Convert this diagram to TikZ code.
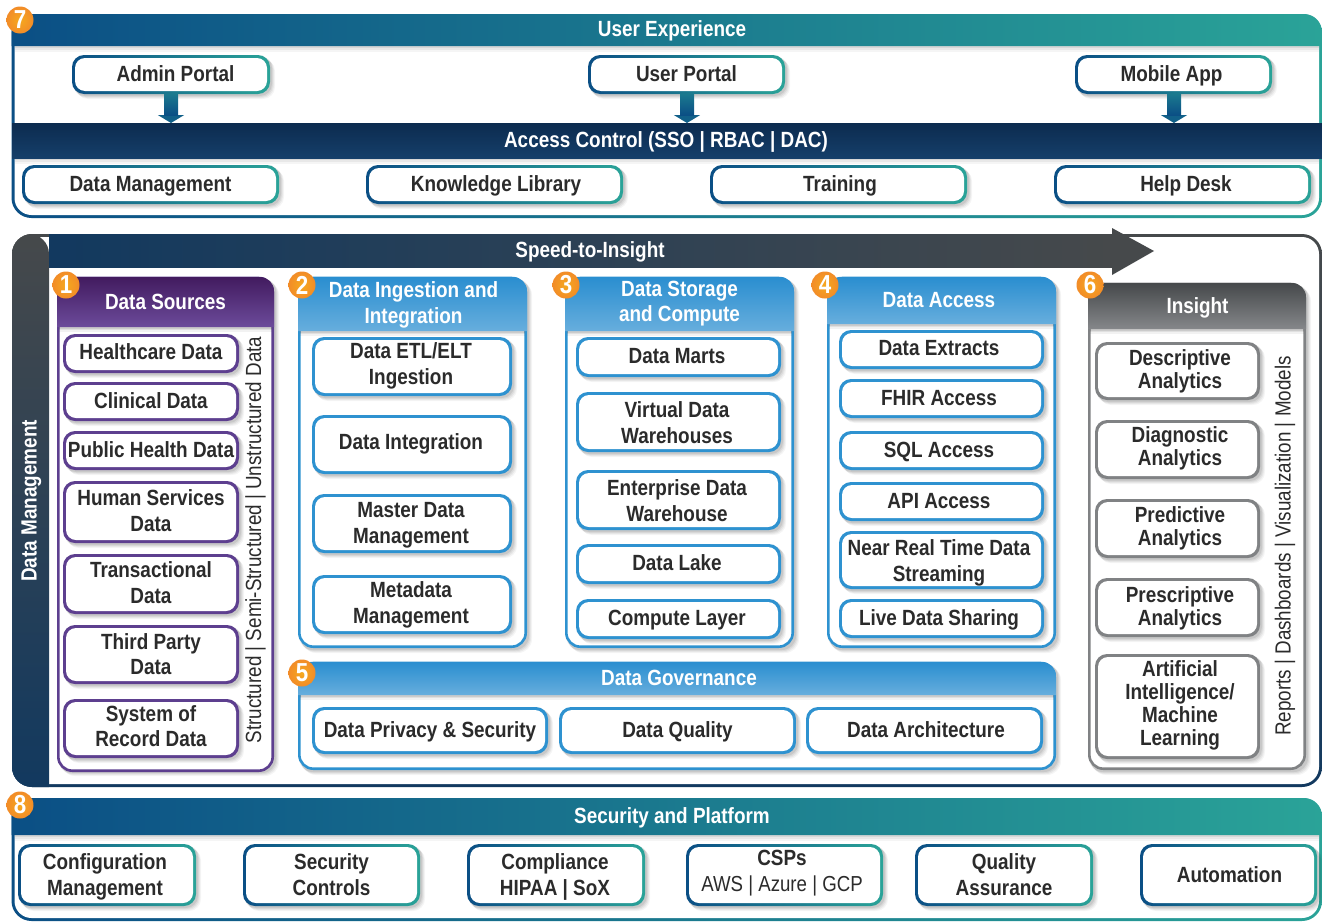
\documentclass[tikz,border=0pt]{standalone}
\usepackage{fontspec}
\usetikzlibrary{arrows.meta,calc}
\newfontfamily\nf[FakeStretch=0.86]{Liberation Sans}
\definecolor{txt}{HTML}{2B2B2B}
\definecolor{navy}{HTML}{0B4F85}
\definecolor{teal}{HTML}{2AA398}
\definecolor{dnavy}{HTML}{0C2B4F}
\definecolor{mnavy}{HTML}{153F6A}
\definecolor{sgray}{HTML}{46494B}
\definecolor{snavy}{HTML}{12395F}
\definecolor{purp}{HTML}{5D3F8F}
\definecolor{dpurp}{HTML}{421B5F}
\definecolor{lpurp}{HTML}{6C4B9B}
\definecolor{blu}{HTML}{2E92D0}
\definecolor{dblu}{HTML}{2A8ED0}
\definecolor{lblu}{HTML}{67AEDD}
\definecolor{gry}{HTML}{808284}
\definecolor{lgry}{HTML}{85878A}
\definecolor{orng}{HTML}{F28C28}
\def\plead{25.5}
\newcommand{\pfont}{\nf\bfseries\fontsize{22}{\plead}\selectfont}
\tikzset{
  x=1pt,y=-1pt,
  evenstrut/.style={execute at begin node={\rule{0pt}{20pt}},execute at end node={\rule[-5pt]{0pt}{5pt}}},
  pillouter/.style={rounded corners=12pt,inner sep=0pt,outer sep=0pt},
  pillfill/.style={rounded corners=10pt,inner sep=0pt,outer sep=0pt,fill=white},
  pilltext/.style={inner sep=0pt,outer sep=0pt,align=center,text=txt,font=\pfont,evenstrut},
  htext/.style={inner sep=0pt,text=white,align=center,font=\pfont,evenstrut},
  hbig/.style={inner sep=0pt,text=white,align=center,font=\nf\bfseries\fontsize{22}{25}\selectfont,evenstrut},
  sidetext/.style={inner sep=0pt,text=txt,rotate=90,font=\nf\fontsize{21.9}{26}\selectfont,evenstrut},
  badge/.style={circle,minimum size=27pt,inner sep=0pt,inner color=orng!75!yellow,outer color=orng,text=white,font=\nf\bfseries\fontsize{26}{26}\selectfont},
  blockarrow/.style={line width=14pt,-{Triangle[width=26pt,length=8pt]},color=#1},
}
% soft shadow
\newcommand{\softshadow}[5]{%
  \foreach \d/\op in {5/.04,4/.05,3/.06,2/.08}{
    \fill[black,opacity=\op,rounded corners=#5]
      ({#1+\d-1},{#2+\d-1}) rectangle ({#3+\d},{#4+\d});
  }}
% [text offset dx,dy]{name}{x1}{y1}{x2}{y2}{left colour}{right colour}{text}
\newcommand{\pill}[9][0,0]{%
  \softshadow{#3}{#4}{#5}{#6}{12pt}
  \node[pillouter,left color=#7,right color=#8,minimum width={(#5-#3)*1pt},minimum height={(#6-#4)*1pt}]
     (#2-edge) at ({(#3+#5)/2},{(#4+#6)/2}) {};
  \node[pillfill,minimum width={(#5-#3-6)*1pt},minimum height={(#6-#4-6)*1pt}]
     (#2-fill) at ({(#3+#5)/2},{(#4+#6)/2}) {};
  \node[pilltext,shift={(#1)}] (#2) at ({(#3+#5)/2},{(#4+#6)/2}) {#9};
}
\newcommand{\colhead}[9][0,0]{%
  \foreach \d/\op in {5/.05,3/.07,1.5/.09}{\fill[black,opacity=\op] (#3+2,#6) rectangle (#5-2,#6+\d);}
  \shade[top color=#7,bottom color=#8,rounded corners=14pt]
     (#3,#6) -- (#3,#4) -- (#5,#4) [sharp corners] -- (#5,#6) -- cycle;
  \node[htext,shift={(#1)}] (#2) at ({(#3+#5)/2},{(#4+#6)/2}) {#9};
}
\begin{document}
\begin{tikzpicture}
\useasboundingbox (0,0) rectangle (1322,921);
\fill[white] (0,0) rectangle (1322,921);

% ---------- Panel 7
\shade[left color=navy,right color=teal,rounded corners=20pt] (11.5,14) rectangle (1322,218);
\fill[white,rounded corners=17pt] (14.5,17) rectangle (1319,215);
\foreach \d/\op in {6/.04,4/.05,2/.07}{\fill[black,opacity=\op] (14.5,46) rectangle (1319,46+\d);}
\shade[left color=navy,right color=teal,rounded corners=18pt]
   (11.5,46) -- (11.5,14) -- (1322,14) [sharp corners] -- (1322,46) -- cycle;
\node[hbig] (ux) at (672,29) {User Experience};

\pill[4.5,-1]{admin}{72}{55}{270}{94}{navy}{teal}{Admin Portal}
\pill[0,-1]{user}{588}{55}{785}{94}{navy}{teal}{User Portal}
\pill[-2,-1]{mobile}{1075}{55}{1272}{94}{navy}{teal}{Mobile App}

\foreach \d/\op in {6/.04,4/.05,2/.07}{\fill[black,opacity=\op] (14.5,158) rectangle (1319,158+\d);}
\shade[top color=dnavy,bottom color=mnavy] (12,123) rectangle (1322,158);
\node[hbig] (access) at (666,140) {Access Control (SSO | RBAC | DAC)};
\coordinate (accesstop1) at (171,123);
\coordinate (accesstop2) at (687,123);
\coordinate (accesstop3) at (1174,123);
\coordinate (a1) at (171,94);
\coordinate (a2) at (687,94);
\coordinate (a3) at (1174,94);
\foreach \p in {1,2,3}{
  \draw[blockarrow=navy!80!teal] (a\p) -- (accesstop\p);
  \shade[top color=navy!50!teal,bottom color=navy] ($(a\p)+(-7,0)$) rectangle ($(a\p)+(7,21)$);
}

\pill[0,-1]{dm}{22}{165}{279}{204}{navy}{teal}{Data Management}
\pill[1.5,-1]{kl}{366}{165}{623}{204}{navy}{teal}{Knowledge Library}
\pill[1.5,-1]{tr}{710}{165}{967}{204}{navy}{teal}{Training}
\pill[3.5,-1]{hd}{1054}{165}{1311}{204}{navy}{teal}{Help Desk}

% ---------- Main panel
\shade[top color=sgray,bottom color=snavy,rounded corners=20pt] (12,234) rectangle (1322,787);
\fill[white,rounded corners=17pt] (15,237) rectangle (1319,784);
\shade[top color=sgray,bottom color=snavy,rounded corners=20pt]
   (49,787) -- (12,787) -- (12,234) -- (49,234) [sharp corners] -- cycle;
\shade[left color=snavy,right color=sgray] (49,234) rectangle (1113,267);
\fill[sgray] (1112,228) -- (1154,251) -- (1112,275) -- cycle;
\node[hbig] (speed) at (590,250) {Speed-to-Insight};
\node[hbig,rotate=90] (dmgmt) at (29,501) {Data Management};

% ---------- Column 1
\softshadow{57}{277}{274}{771}{14pt}
\draw[purp,line width=2.6pt,fill=white,rounded corners=14pt] (58.3,278) rectangle (272.7,770.7);
\colhead{c1}{57}{277}{274}{327}{dpurp}{lpurp}{Data Sources}
\pill[0,-2]{p1}{63}{334}{239}{373}{purp}{purp}{Healthcare Data}
\pill[0,-1]{p2}{63}{382}{239}{421}{purp}{purp}{Clinical Data}
\pill[0,-1]{p3}{63}{431}{239}{470}{purp}{purp}{Public Health Data}
\pill[0,1]{p4}{63}{481}{239}{543}{purp}{purp}{Human Services\\Data}
\pill[0,1]{p5}{63}{554}{239}{614}{purp}{purp}{Transactional\\Data}
\pill[0,2]{p6}{63}{625}{239}{684}{purp}{purp}{Third Party\\Data}
\pill{p7}{63}{699}{239}{758}{purp}{purp}{System of\\Record Data}
\node[sidetext] (s1) at (253.5,540) {Structured | Semi-Structured | Unstructured Data};

% ---------- Column 2
\softshadow{298}{277}{527}{648}{14pt}
\draw[blu,line width=2.6pt,fill=white,rounded corners=14pt] (299.3,278) rectangle (525.7,646.7);
\colhead[1,1]{c2}{298}{277}{527}{331}{dblu}{lblu}{Data Ingestion and\\Integration}
\pill[-1,-0.5]{i1}{312}{337}{512}{396}{blu}{blu}{Data ETL/ELT\\Ingestion}
\pill[-1,-3]{i2}{312}{415}{512}{474}{blu}{blu}{Data Integration}
\pill[-1,2]{i3}{312}{494}{512}{553}{blu}{blu}{Master Data\\Management}
\pill[-1,0.5]{i4}{312}{575}{512}{634}{blu}{blu}{Metadata\\Management}

% ---------- Column 3
\softshadow{565}{277}{794}{648}{14pt}
\draw[blu,line width=2.6pt,fill=white,rounded corners=14pt] (566.3,278) rectangle (792.7,646.7);
\colhead{c3}{565}{277}{794}{331}{dblu}{lblu}{Data Storage\\and Compute}
\pill[-1.5,-1]{d1}{576}{337}{781}{377}{blu}{blu}{Data Marts}
\pill[-1.5,3]{d2}{576}{392}{781}{452}{blu}{blu}{Virtual Data\\Warehouses}
\pill[-1.5,3]{d3}{576}{470}{781}{530}{blu}{blu}{Enterprise Data\\Warehouse}
\pill[-1.5,-1]{d4}{576}{544}{781}{584}{blu}{blu}{Data Lake}
\pill[-1.5,-1]{d5}{576}{599}{781}{639}{blu}{blu}{Compute Layer}

% ---------- Column 4
\softshadow{827}{277}{1056}{648}{14pt}
\draw[blu,line width=2.6pt,fill=white,rounded corners=14pt] (828.3,278) rectangle (1054.7,646.7);
\colhead[-2.5,-0.5]{c4}{827}{277}{1056}{324}{dblu}{lblu}{Data Access}
\pill[-2.5,-2]{e1}{839}{330}{1044}{369}{blu}{blu}{Data Extracts}
\pill[-2.5,-1]{e2}{839}{379}{1044}{418}{blu}{blu}{FHIR Access}
\pill[-2.5,-1]{e3}{839}{431}{1044}{470}{blu}{blu}{SQL Access}
\pill[-2.5,-1]{e4}{839}{482}{1044}{521}{blu}{blu}{API Access}
\pill[-2.5,3]{e5}{839}{531}{1044}{589}{blu}{blu}{Near Real Time Data\\Streaming}
\pill[-2.5,-1]{e6}{839}{599}{1044}{638}{blu}{blu}{Live Data Sharing}

% ---------- Panel 5
\softshadow{298}{662}{1056}{770}{14pt}
\draw[blu,line width=2.6pt,fill=white,rounded corners=14pt] (299.3,663) rectangle (1054.7,768.7);
\colhead[2,-1]{c5}{298}{662}{1056}{695}{dblu}{lblu}{Data Governance}
\pill[0,-1]{g1}{312}{707}{548}{754}{blu}{blu}{Data Privacy \& Security}
\pill[0,-1]{g2}{559}{707}{796}{754}{blu}{blu}{Data Quality}
\pill[1.5,-1]{g3}{806}{707}{1043}{754}{blu}{blu}{Data Architecture}

% ---------- Insight
\softshadow{1088}{283}{1306}{770}{14pt}
\draw[gry,line width=2.6pt,fill=white,rounded corners=14pt] (1089.3,284) rectangle (1304.7,768.7);
\colhead[0.5,0]{c6}{1088}{283}{1306}{329}{sgray}{lgry}{Insight}
\def\plead{23}
\pill[2.5,1]{n1}{1095}{342}{1260}{400}{gry}{gry}{Descriptive\\Analytics}
\pill[2.5,-1]{n2}{1095}{420}{1260}{479}{gry}{gry}{Diagnostic\\Analytics}
\pill[2.5,0]{n3}{1095}{499}{1260}{558}{gry}{gry}{Predictive\\Analytics}
\pill[2.5,1.5]{n4}{1095}{578}{1260}{637}{gry}{gry}{Prescriptive\\Analytics}
\pill[2.5,-1]{n5}{1095}{654}{1260}{759}{gry}{gry}{Artificial\\Intelligence/\\Machine\\Learning}
\def\plead{25.5}
\node[sidetext] (s2) at (1283,546) {Reports | Dashboards | Visualization | Models};

% ---------- Panel 8
\shade[left color=navy,right color=teal,rounded corners=20pt] (11.5,798) rectangle (1322,921);
\fill[white,rounded corners=17pt] (14.5,801) rectangle (1319,918);
\foreach \d/\op in {6/.04,4/.05,2/.07}{\fill[black,opacity=\op] (14.5,835) rectangle (1319,835+\d);}
\shade[left color=navy,right color=teal,rounded corners=18pt]
   (11.5,835) -- (11.5,798) -- (1322,798) [sharp corners] -- (1322,835) -- cycle;
\node[hbig] (sp) at (672,816) {Security and Platform};
\pill[-2,2]{b1}{18}{844}{196}{906}{navy}{teal}{Configuration\\Management}
\pill[0,2]{b2}{243}{844}{420}{906}{navy}{teal}{Security\\Controls}
\pill[-1,2]{b3}{467}{844}{645}{906}{navy}{teal}{Compliance\\HIPAA | SoX}
\pill[-2.5,-1.5]{b4}{686}{844}{883}{906}{navy}{teal}{CSPs\\{\nf\mdseries\fontsize{21.7}{25}\selectfont AWS | Azure | GCP}}
\pill[0,2]{b5}{915}{844}{1093}{906}{navy}{teal}{Quality\\Assurance}
\pill[1,0]{b6}{1140}{844}{1317}{906}{navy}{teal}{Automation}

% ---------- Badges
\node[badge] (b-7) at (20,20) {7};
\node[badge] (b-1) at (66,285) {1};
\node[badge] (b-2) at (302,285) {2};
\node[badge] (b-3) at (566,285) {3};
\node[badge] (b-4) at (825,285) {4};
\node[badge] (b-6) at (1090,285) {6};
\node[badge] (b-5) at (302,673) {5};
\node[badge] (b-8) at (20,805) {8};
\end{tikzpicture}
\end{document}
